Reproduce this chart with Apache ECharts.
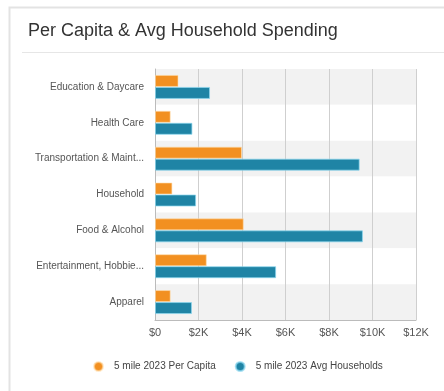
<!DOCTYPE html>
<html>
<head>
<meta charset="utf-8">
<style>
  html, body { margin: 0; padding: 0; background: #fff; }
  #chart { width: 444px; height: 391px; }
</style>
<script src="https://cdn.jsdelivr.net/npm/echarts@6/dist/echarts.min.js"></script>
</head>
<body>
<div id="chart"></div>
<script>
// Spending categories, top to bottom
const categories = [
  'Education & Daycare',
  'Health Care',
  'Transportation & Maintenance',
  'Household',
  'Food & Alcohol',
  'Entertainment, Hobbies & Pets',
  'Apparel'
];
// Dollars per year
const perCapita = [1080, 720, 4000, 800, 4080, 2380, 720];
const avgHouseholds = [2530, 1720, 9410, 1890, 9560, 5570, 1700];
const xTicks = ['$0', '$2K', '$4K', '$6K', '$8K', '$10K', '$12K'];

const FONT = '"Liberation Sans", Arial, sans-serif';
const chart = echarts.init(document.getElementById('chart'), null, { renderer: 'canvas' });

chart.setOption({
  animation: false,
  textStyle: { fontFamily: FONT },
  graphic: [
    { type: 'rect', shape: { x: 9.5, y: 7.5, width: 460, height: 400 },
      style: { fill: 'none', stroke: '#e3e3e3', lineWidth: 2 }, z: -10 },
    { type: 'text', left: 28, top: 22,
      style: { text: 'Per Capita & Avg Household Spending', font: '18px ' + FONT, fill: '#333' } },
    { type: 'line', shape: { x1: 22, y1: 52.5, x2: 444, y2: 52.5 },
      style: { stroke: '#e6e6e6', lineWidth: 1 } }
  ],
  grid: { left: 155, right: 28, top: 69, bottom: 71, containLabel: false },
  xAxis: {
    type: 'value',
    min: 0, max: 12000, interval: 2000,
    axisLine: { show: true, lineStyle: { color: '#bbb' } },
    axisTick: { show: false },
    axisLabel: {
      color: '#555', fontSize: 11, margin: 7,
      formatter: v => xTicks[Math.round(v / 2000)]
    },
    splitLine: { show: true, lineStyle: { color: '#cfcfcf', width: 1 } }
  },
  yAxis: {
    type: 'category',
    data: categories,
    inverse: true,
    axisLine: { show: true, lineStyle: { color: '#bbb' } },
    axisTick: { show: false },
    axisLabel: {
      color: '#555', fontSize: 10, margin: 11,
      width: 113, overflow: 'truncate', ellipsis: '...'
    },
    splitArea: { show: true, areaStyle: { color: ['#f2f2f2', '#ffffff'] } }
  },
  legend: {
    bottom: 14, left: 88,
    itemWidth: 9, itemHeight: 9, itemGap: 19,
    icon: 'circle',
    textStyle: { color: '#444', fontSize: 10, padding: [0, 0, 0, 6] },
    data: ['5 mile 2023 Per Capita', '5 mile 2023 Avg Households']
  },
  series: [
    {
      name: '5 mile 2023 Per Capita', type: 'bar', data: perCapita,
      barWidth: 12, barGap: '0%',
      itemStyle: { color: '#f29021', borderColor: 'rgba(255,220,170,0.6)', borderWidth: 1 }
    },
    {
      name: '5 mile 2023 Avg Households', type: 'bar', data: avgHouseholds,
      barWidth: 12, barGap: '0%',
      itemStyle: { color: '#1f84a5', borderColor: 'rgba(140,215,240,0.7)', borderWidth: 1 }
    }
  ]
});
</script>
</body>
</html>
